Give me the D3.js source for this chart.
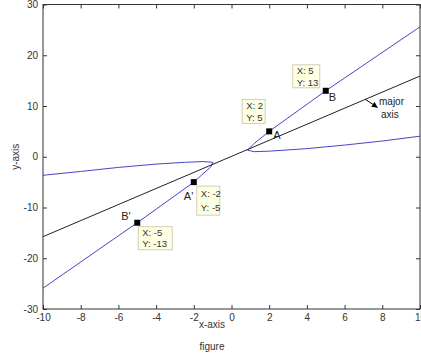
<!DOCTYPE html>
<html>
<head>
<meta charset="utf-8">
<script src="https://cdn.jsdelivr.net/npm/d3@7"></script>
<style>
  html, body { margin: 0; padding: 0; background: #fff; }
  svg { display: block; font-family: "Liberation Sans", Arial, sans-serif; }
</style>
</head>
<body>
<div id="chart"></div>
<script>
// right branch of the blue curve
const rightBranchX = [10, 5, 2, 1.2, 0.85, 1.2, 2, 4, 6, 8, 10];
const rightBranchY = [25.6, 13, 5, 2.6, 1.3, 1.0, 1.1, 1.6, 2.3, 3.1, 4.05];
// left branch
const leftBranchX = [-10, -5, -2, -1.1, -0.98, -1.5, -2.5, -4, -6, -8, -10];
const leftBranchY = [-25.9, -13, -5, -2.0, -1.1, -0.95, -1.1, -1.45, -2.1, -2.9, -3.65];
// major axis line
const majorX = [-10, 10];
const majorY = [-15.75, 15.9];
// data tips
const tipX = [2, 5, -2, -5];
const tipY = [5, 13, -5, -13];
const tipNames = ["A", "B", "A'", "B'"];
const xTicks = [-10, -8, -6, -4, -2, 0, 2, 4, 6, 8, 10];
const yTicks = [-30, -20, -10, 0, 10, 20, 30];

const width = 421, height = 358;
const margin = { left: 43, right: 1, top: 4.5, bottom: 49 };

const svg = d3.select("#chart").append("svg")
  .attr("width", width)
  .attr("height", height);

const x = d3.scaleLinear().domain([-10, 10]).range([margin.left, width - margin.right]);
const y = d3.scaleLinear().domain([-30, 30]).range([height - margin.bottom, margin.top]);

const axisColor = "#333";
const blue = "#4646c8";
const plain = (d) => String(d); // ascii hyphen minus, like the original

// plot lines
const line = d3.line().x((d) => x(d[0])).y((d) => y(d[1]));
const plot = svg.append("g");
[d3.zip(rightBranchX, rightBranchY), d3.zip(leftBranchX, leftBranchY)].forEach((pts) => {
  plot.append("path")
    .attr("d", line(pts))
    .attr("fill", "none")
    .attr("stroke", blue)
    .attr("stroke-width", 1);
});
plot.append("path")
  .attr("d", line(d3.zip(majorX, majorY)))
  .attr("fill", "none")
  .attr("stroke", "#222")
  .attr("stroke-width", 1);

// axes (ticks inside, box around)
const tickLen = 4;
const bottomAxis = d3.axisBottom(x).tickValues(xTicks).tickSize(-tickLen).tickPadding(5).tickFormat(plain);
const topAxis = d3.axisTop(x).tickValues(xTicks).tickSize(-tickLen).tickFormat("");
const leftAxis = d3.axisLeft(y).tickValues(yTicks).tickSize(-tickLen).tickPadding(5).tickFormat(plain);
const rightAxis = d3.axisRight(y).tickValues(yTicks).tickSize(-tickLen).tickFormat("");

const styleAxis = (g) => {
  g.select(".domain").remove();
  g.selectAll("line").attr("stroke", axisColor);
  g.selectAll("text").attr("fill", axisColor).attr("font-size", "10px")
    .attr("font-family", "'Liberation Sans', Arial, sans-serif");
};
svg.append("g").attr("transform", `translate(0,${y(-30)})`).call(bottomAxis).call(styleAxis);
svg.append("g").attr("transform", `translate(0,${y(30)})`).call(topAxis).call(styleAxis);
svg.append("g").attr("transform", `translate(${x(-10)},0)`).call(leftAxis).call(styleAxis);
svg.append("g").attr("transform", `translate(${x(10)},0)`).call(rightAxis).call(styleAxis);

svg.append("rect")
  .attr("x", x(-10)).attr("y", y(30))
  .attr("width", x(10) - x(-10)).attr("height", y(-30) - y(30))
  .attr("fill", "none").attr("stroke", axisColor).attr("stroke-width", 1);

// data tip markers, names and boxes
const boxLayout = [
  { dx: -27, dy: -32, w: 23, h: 24, gap: 12 },
  { dx: -33, dy: -26, w: 27, h: 23, gap: 12 },
  { dx: 3, dy: 4, w: 23, h: 29, gap: 14 },
  { dx: 1, dy: 4, w: 34, h: 23, gap: 11 }
];
const nameOffset = [[4, 8], [3, 10], [-10, 18], [-16, -3]];

tipX.forEach((tx, i) => {
  const px = x(tx), py = y(tipY[i]);
  const b = boxLayout[i];
  svg.append("rect")
    .attr("x", px - 3).attr("y", py - 3)
    .attr("width", 6).attr("height", 6)
    .attr("fill", "#000");
  svg.append("text")
    .attr("x", px + nameOffset[i][0]).attr("y", py + nameOffset[i][1])
    .attr("font-size", "11px").attr("fill", "#222")
    .text(tipNames[i]);
  const bx = px + b.dx, by = py + b.dy;
  svg.append("rect")
    .attr("x", bx).attr("y", by)
    .attr("width", b.w).attr("height", b.h)
    .attr("fill", "#ffffe4").attr("stroke", "#cfcfb8").attr("stroke-width", 1);
  const mid = by + b.h / 2;
  svg.append("text")
    .attr("x", bx + 4).attr("y", mid - b.gap / 2 + 3.5)
    .attr("font-size", "9.5px").attr("fill", "#333")
    .text(`X: ${tx}`);
  svg.append("text")
    .attr("x", bx + 4).attr("y", mid + b.gap / 2 + 3.5)
    .attr("font-size", "9.5px").attr("fill", "#333")
    .text(`Y: ${tipY[i]}`);
});

// major axis annotation
const defs = svg.append("defs");
defs.append("marker")
  .attr("id", "arrow")
  .attr("viewBox", "0 -5 10 10")
  .attr("refX", 9).attr("refY", 0)
  .attr("markerWidth", 6).attr("markerHeight", 6)
  .attr("orient", "auto")
  .append("path")
  .attr("d", "M0,-5L10,0L0,5")
  .attr("fill", "#000");
const ax0 = 7.1;
const ay0 = majorY[0] + (ax0 - majorX[0]) * (majorY[1] - majorY[0]) / (majorX[1] - majorX[0]);
svg.append("line")
  .attr("x1", x(ax0)).attr("y1", y(ay0))
  .attr("x2", x(ax0) + 12).attr("y2", y(ay0) + 8)
  .attr("stroke", "#000").attr("stroke-width", 1)
  .attr("marker-end", "url(#arrow)");
svg.append("text").attr("x", 379).attr("y", 105).attr("font-size", "10px").attr("fill", "#222").text("major");
svg.append("text").attr("x", 381).attr("y", 118).attr("font-size", "10px").attr("fill", "#222").text("axis");

// axis titles
svg.append("text")
  .attr("x", 212).attr("y", 328)
  .attr("text-anchor", "middle").attr("font-size", "10px").attr("fill", "#333")
  .text("x-axis");
svg.append("text")
  .attr("x", 212).attr("y", 350)
  .attr("text-anchor", "middle").attr("font-size", "10px").attr("fill", "#333")
  .text("figure");
svg.append("text")
  .attr("transform", `translate(19,${y(0)}) rotate(-90)`)
  .attr("text-anchor", "middle").attr("font-size", "10px").attr("fill", "#333")
  .text("y-axis");
</script>
</body>
</html>
